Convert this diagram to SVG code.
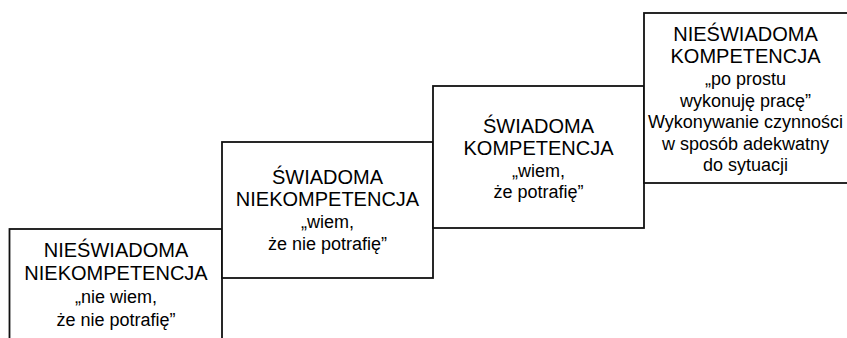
<svg xmlns="http://www.w3.org/2000/svg" width="847" height="338" viewBox="0 0 847 338">
<style>
.box{fill:#fff;stroke:#111;stroke-width:1.8}
text{font-family:"Liberation Sans",Arial,sans-serif;fill:#000;text-anchor:middle}
.h{font-size:20px}
.b{font-size:18px}
</style>
<rect width="847" height="338" fill="#fff"/>
<g id="connectors"></g>
<g id="node1">
<rect class="box" x="9.5" y="229" width="212.5" height="120"/>
<text class="h" x="116" y="257">NIEŚWIADOMA</text>
<text class="h" x="116" y="280">NIEKOMPETENCJA</text>
<text class="b" x="116" y="303">„nie wiem,</text>
<text class="b" x="116" y="326">że nie potrafię”</text>
</g>
<g id="node2">
<rect class="box" x="222" y="142" width="211" height="136"/>
<text class="h" x="327.5" y="184">ŚWIADOMA</text>
<text class="h" x="327.5" y="206">NIEKOMPETENCJA</text>
<text class="b" x="327.5" y="228">„wiem,</text>
<text class="b" x="327.5" y="250">że nie potrafię”</text>
</g>
<g id="node3">
<rect class="box" x="433" y="86" width="211" height="142"/>
<text class="h" x="538.5" y="133">ŚWIADOMA</text>
<text class="h" x="538.5" y="155">KOMPETENCJA</text>
<text class="b" x="538.5" y="177">„wiem,</text>
<text class="b" x="538.5" y="198">że potrafię”</text>
</g>
<g id="node4">
<rect class="box" x="644" y="13" width="210" height="170"/>
<text class="h" x="745.5" y="41">NIEŚWIADOMA</text>
<text class="h" x="745.5" y="63">KOMPETENCJA</text>
<text class="b" x="745.5" y="85">„po prostu</text>
<text class="b" x="745.5" y="107">wykonuję pracę”</text>
<text class="b" x="745.5" y="128">Wykonywanie czynności</text>
<text class="b" x="745.5" y="150">w sposób adekwatny</text>
<text class="b" x="745.5" y="171">do sytuacji</text>
</g>
</svg>
